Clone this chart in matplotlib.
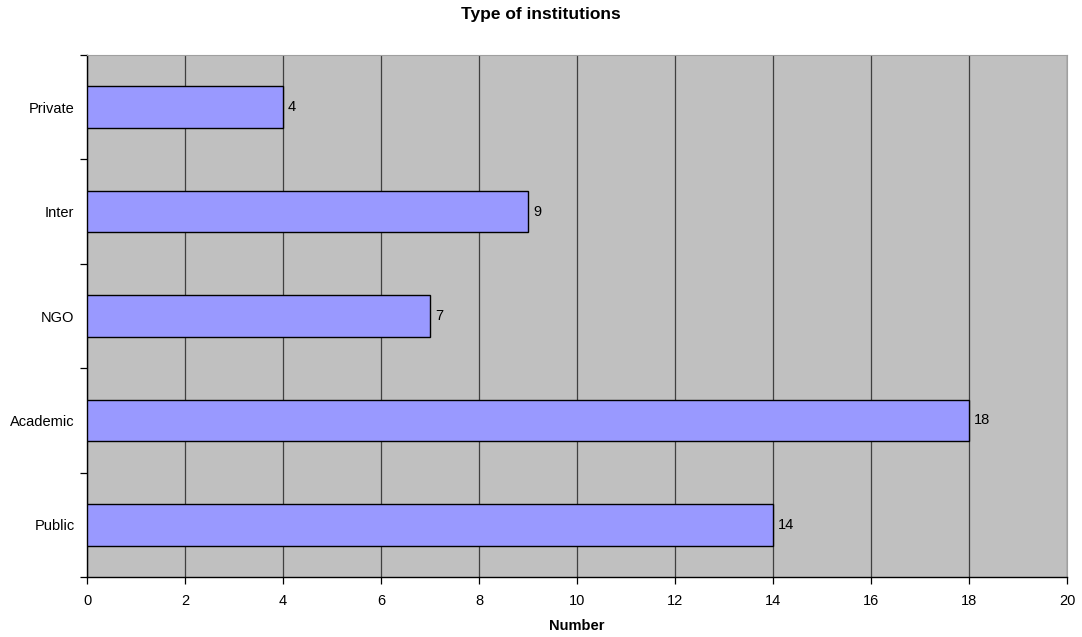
import numpy as np
import matplotlib
matplotlib.use('Agg')
import matplotlib.pyplot as plt

plt.rcParams['font.family'] = ['Liberation Sans', 'DejaVu Sans']

# Data
categories = ['Public', 'Academic', 'NGO', 'Inter', 'Private']
values = [14, 18, 7, 9, 4]
x_ticks = list(range(0, 21, 2))

fig = plt.figure(figsize=(10.82, 6.37), dpi=100)
ax = fig.add_axes([87 / 1082, 1 - 577 / 637, 980 / 1082, 522 / 637])
ax.set_facecolor('#c0c0c0')

pos = np.arange(len(categories))
ax.barh(pos, values, height=0.4, color='#9999ff', edgecolor='black', linewidth=1.0, zorder=3)
for p, v in zip(pos, values):
    ax.text(v + 0.1, p, str(v), va='center', ha='left', fontsize=10.5, zorder=4)

ax.set_xlim(0, 20)
ax.set_ylim(-0.5, len(categories) - 0.5)
ax.set_xticks(x_ticks)
ax.xaxis.grid(True, color='#404040', linewidth=0.9, zorder=1)
ax.set_axisbelow(True)

ax.set_yticks(pos)
ax.set_yticklabels(categories, fontsize=10.5)
ax.set_yticks(np.arange(-0.5, len(categories), 1.0), minor=True)
ax.tick_params(axis='y', which='major', length=0, pad=9)
ax.tick_params(axis='y', which='minor', length=5, direction='out', width=0.9)
ax.tick_params(axis='x', length=5, direction='out', width=0.9, labelsize=10.5, pad=7)

for s in ['top', 'right']:
    ax.spines[s].set_color('#a0a0a0')
    ax.spines[s].set_linewidth(0.8)
for s in ['left', 'bottom']:
    ax.spines[s].set_color('black')
    ax.spines[s].set_linewidth(1.0)

ax.set_xlabel('Number', fontsize=10.5, fontweight='bold', labelpad=8)
fig.text(0.5, 1 - 14.5 / 637, 'Type of institutions', ha='center', va='center',
         fontsize=12.5, fontweight='bold')

fig.savefig('out.png', dpi=100)
